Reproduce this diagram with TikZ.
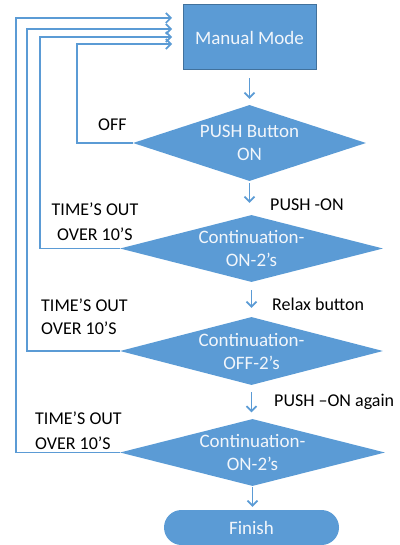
\documentclass[tikz,border=0pt]{standalone}
\usepackage{fontspec}
\setmainfont{Carlito}
\usetikzlibrary{shapes.geometric,arrows.meta}
\definecolor{flowblue}{HTML}{5B9BD5}
\definecolor{flowedge}{HTML}{41719C}
\definecolor{paletext}{HTML}{F2F6FB}
\begin{document}
\begin{tikzpicture}[x=1pt,y=-1pt,
  font=\fontsize{18}{23}\selectfont,
  shapetext/.style={font=\fontsize{19}{23}\selectfont, text=paletext},
  box/.style={rectangle, draw=flowedge, line width=1pt, fill=flowblue, shapetext,
    minimum width=133pt, minimum height=65pt, inner sep=0pt},
  decision/.style={diamond, fill=flowblue, shapetext, align=center, inner sep=0pt},
  terminal/.style={rectangle, rounded corners=17.5pt, fill=flowblue, shapetext,
    minimum width=175pt, minimum height=35pt, inner sep=0pt},
  flow/.style={draw=flowblue, line width=1.7pt, -{Straight Barb[length=5pt,width=10pt]}},
  back/.style={draw=flowblue, line width=1.7pt, -{Straight Barb[length=5pt,width=10pt]}},
  note/.style={text=black, inner sep=0pt}]

\useasboundingbox (0,0) rectangle (399,545);

% main column
\node[box] (mm) at (249.5,37.5) {Manual Mode};
\node[decision, minimum width=233pt, minimum height=76pt, aspect=3.07] (d1) at (249.5,143) {PUSH Button\\ON};
\node[decision, minimum width=263pt, minimum height=67pt, aspect=3.9] (d2) at (251.5,248.5) {Continuation-\\ON-2's};
\node[decision, minimum width=263pt, minimum height=68pt, aspect=3.87] (d3) at (251.5,351) {Continuation-\\OFF-2's};
\node[decision, minimum width=265pt, minimum height=67pt, aspect=3.95] (d4) at (252.5,452.5) {Continuation-\\ON-2's};
\node[terminal] (fin) at (251.5,527.5) {Finish};

% forward steps
\draw[flow, shorten <=8pt, shorten >=6pt] (mm.south) -- (d1.north);
\draw[flow, shorten <=2pt, shorten >=12pt] (d1.south) -- (d1.south |- d2.north);
\draw[flow, shorten <=8pt, shorten >=9pt] (d2.south) -- (d3.north);
\draw[flow, shorten <=7pt, shorten >=6.5pt] (d3.south) -- (d3.south |- d4.north);
\draw[flow, shorten <=1pt, shorten >=3pt] (d4.south) -- (d4.south |- fin.north);

% returns to manual mode
\coordinate (r1) at (172,44);
\coordinate (r2) at (172,37);
\coordinate (r3) at (172,29);
\coordinate (r4) at (172,18);
\draw[back] (d1.west) -- ++(-56,0) |- (r1);
\draw[back] (d2.west) -- ++(-80,0) |- (r2);
\draw[back] (d3.west) -- ++(-93,0) |- (r3);
\draw[back] (d4.west) -- ++(-104,0) |- (r4);

% labels
\node[note, anchor=base west] (lOff) at (98,131) {OFF};
\node[note, anchor=north, align=center] (lT1) at (95,203) {TIME'S OUT\\[2pt]OVER 10'S};
\node[note, anchor=north west, align=left] (lT2) at (41,299) {TIME'S OUT\\OVER 10'S};
\node[note, anchor=north west, align=left] (lT3) at (35,412) {TIME'S OUT\\[2pt]OVER 10'S};
\node[note, anchor=base west] (lP1) at (270,211) {PUSH -ON};
\node[note, anchor=base west] (lR) at (272,310) {Relax button};
\node[note, anchor=base west] (lP2) at (274,406) {PUSH –ON again};
\end{tikzpicture}
\end{document}
